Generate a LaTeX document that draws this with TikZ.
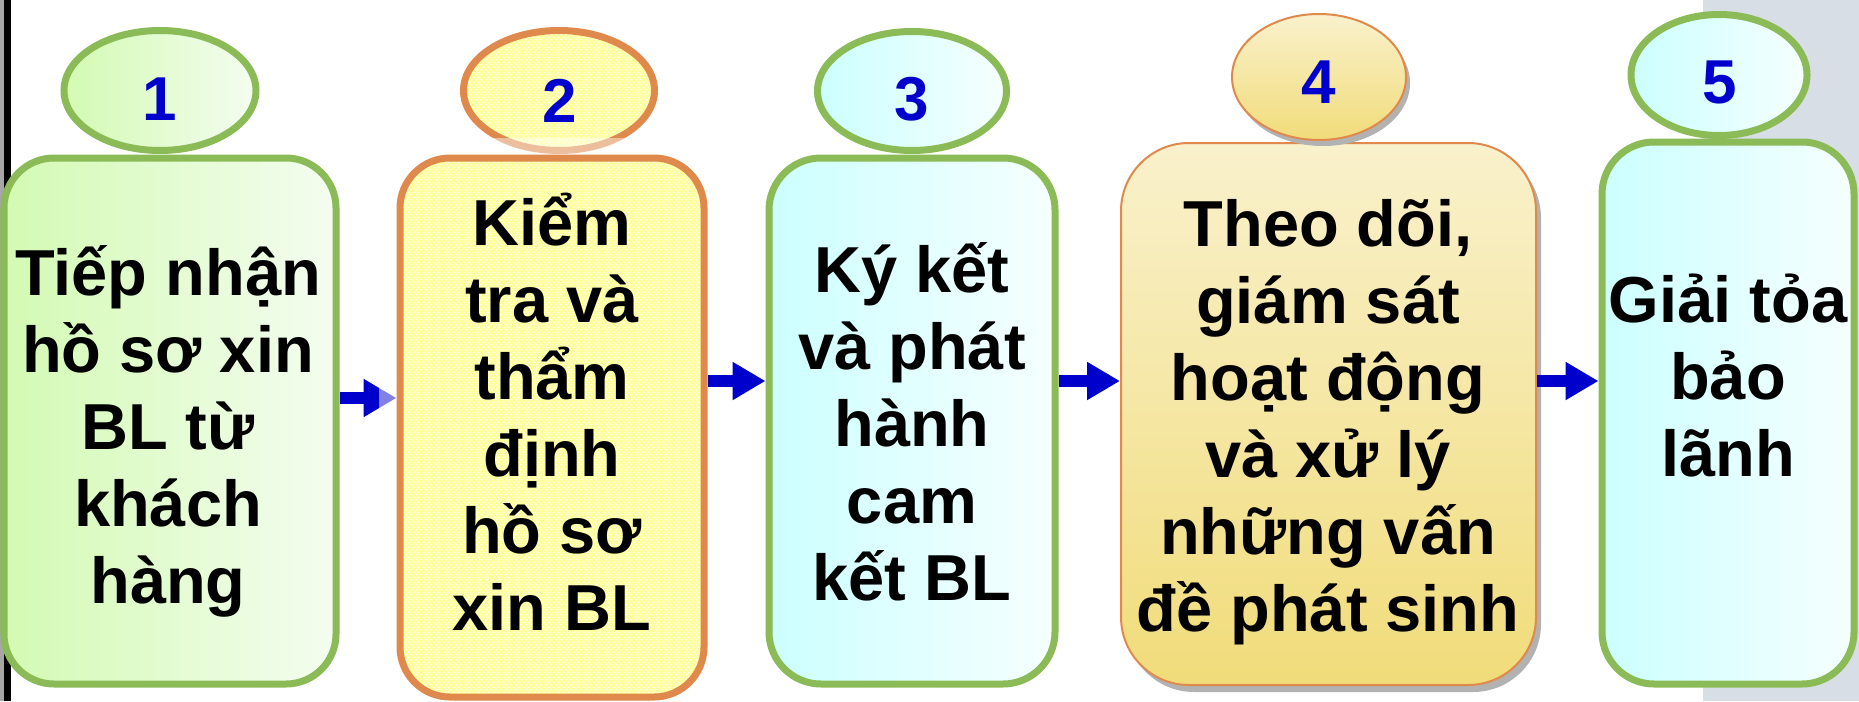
\documentclass[tikz,border=0pt]{standalone}
\usepackage{fontspec}
\setmainfont{Liberation Sans}
\usetikzlibrary{arrows.meta,shapes.geometric,shadows,patterns}
\definecolor{grn}{HTML}{8BBB57}
\definecolor{org}{HTML}{DF8A4C}
\definecolor{blu}{HTML}{0000CC}
\definecolor{gfillL}{HTML}{D3FAB3}
\definecolor{gfillR}{HTML}{F4FDF0}
\definecolor{cfillL}{HTML}{CCFFFF}
\definecolor{cfillR}{HTML}{F6FFFF}
\definecolor{yfill}{HTML}{FFFF9C}
\definecolor{tanT}{HTML}{F9F1CC}
\definecolor{tanB}{HTML}{F1DC7A}
\definecolor{stripc}{HTML}{D8DEE5}
\pgfdeclarepatternformonly{ydots}{\pgfpoint{-1pt}{-1pt}}{\pgfpoint{6pt}{6pt}}{\pgfpoint{5pt}{5pt}}{%
  \pgfpathellipse{\pgfpoint{1.25pt}{1.25pt}}{\pgfpoint{1.2pt}{0pt}}{\pgfpoint{0pt}{0.7pt}}%
  \pgfpathellipse{\pgfpoint{3.75pt}{3.75pt}}{\pgfpoint{1.2pt}{0pt}}{\pgfpoint{0pt}{0.7pt}}%
  \pgfusepath{fill}}
\newcommand\ms{\rule[-20pt]{0pt}{77pt}}
\begin{document}
\begin{tikzpicture}[x=1pt,y=-1pt,
  boxbase/.style={rectangle, inner sep=0pt},
  dotfill/.style={preaction={fill=yfill}, preaction={pattern=ydots, pattern color=white}},
  gbox/.style={boxbase, draw=grn, line width=7pt, rounded corners=50pt, left color=gfillL, right color=gfillR},
  cbox/.style={boxbase, draw=grn, line width=7pt, rounded corners=52pt, left color=cfillL, right color=cfillR},
  ybox/.style={boxbase, dotfill, draw=org, line width=7pt, rounded corners=50pt},
  tbox/.style={boxbase, draw=org, line width=2pt, rounded corners=68pt, top color=tanT, bottom color=tanB,
     drop shadow={shadow xshift=5pt, shadow yshift=-7pt, fill=black!30, opacity=1}},
  ovl/.style={ellipse, inner sep=0pt},
  gell/.style={ovl, draw=grn, line width=7pt, left color=gfillL, right color=gfillR},
  cell/.style={ovl, draw=grn, line width=7pt, left color=cfillL, right color=cfillR},
  yell/.style={ovl, dotfill, draw=org, line width=7pt},
  tell/.style={ovl, draw=org, line width=2pt, top color=tanT, bottom color=tanB,
     drop shadow={shadow xshift=4pt, shadow yshift=-6pt, fill=black!30, opacity=1}},
  num/.style={anchor=base, inner sep=0pt, text=blu, font=\fontsize{62}{62}\selectfont\bfseries},
  body/.style={anchor=north, inner sep=0pt, align=center,
     font=\fontsize{65}{77}\selectfont\bfseries},
  arr/.style={draw=blu, line width=12pt, -{Triangle[length=33pt,width=36pt]}}]
\useasboundingbox (0,0) rectangle (1859,701);
\fill[white] (0,0) rectangle (1859,701);
\fill[stripc] (1703,0) rectangle (1859,701);
\fill[black!35] (0,0) rectangle (4,701);
\fill[black] (4,0) rectangle (11,701);

% boxes
\node[gbox, minimum width=332pt, minimum height=526pt] (b1) at (170,421) {};
\node[ybox, minimum width=304pt, minimum height=539pt] (b2) at (552,427.5) {};
\node[cbox, minimum width=286pt, minimum height=526pt] (b3) at (912,421) {};
\node[tbox, minimum width=415pt, minimum height=542pt] (b4) at (1328.5,414) {};
\node[cbox, minimum width=252pt, minimum height=542pt] (b5) at (1728,413) {};

% ellipses
\node[gell, minimum width=192pt, minimum height=120pt] (e1) at (160,90.5) {};
\node[yell, minimum width=191pt, minimum height=120pt] (e2) at (559,90.5) {};
\begin{scope}
  \clip (559,90.5) ellipse [x radius=99, y radius=64];
  \fill[white, opacity=0.45] (450,138) rectangle (670,154);
\end{scope}
\node[cell, minimum width=189pt, minimum height=119pt] (e3) at (912,91) {};
\node[tell, minimum width=174pt, minimum height=126pt] (e4) at (1319,77) {};
\node[cell, minimum width=176pt, minimum height=121pt] (e5) at (1719,75) {};

% numbers
\node[num] (n1) at (160,120) {1};
\node[num] (n2) at (560,122) {2};
\node[num] (n3) at (912,120) {3};
\node[num] (n4) at (1319,103) {4};
\node[num] (n5) at (1720,103) {5};

% texts (anchor north = first baseline - 57)
\node[body] (t1) at (168,238) {\ms Tiếp nhận\\\ms hồ sơ xin\\\ms BL từ \\\ms khách\\\ms hàng};
\node[body] (t2) at (552,188.5) {\ms Kiểm\\\ms tra và\\\ms thẩm\\\ms định\\\ms hồ sơ\\\ms xin BL};
\node[body] (t3) at (912,235) {\ms Ký kết \\\ms và phát\\\ms hành\\\ms cam\\\ms kết BL};
\node[body] (t4) at (1328,189) {\ms Theo dõi,\\\ms giám sát\\\ms hoạt động\\\ms và xử lý\\\ms những vấn\\\ms đề phát sinh};
\node[body] (t5) at (1728,265) {\ms Giải tỏa\\\ms bảo\\\ms lãnh};

% arrows
\coordinate (ya) at (0,398);
\coordinate (yb) at (0,381);
\draw[arr] (b1.east |- ya) -- (b2.west |- ya);
\fill[white, opacity=0.5] (379,376) rectangle (395.5,420);
\draw[arr] (b2.east |- yb) -- (b3.west |- yb);
\draw[arr] (b3.east |- yb) -- (b4.west |- yb);
\draw[arr] (b4.east |- yb) -- (b5.west |- yb);
\end{tikzpicture}
\end{document}
